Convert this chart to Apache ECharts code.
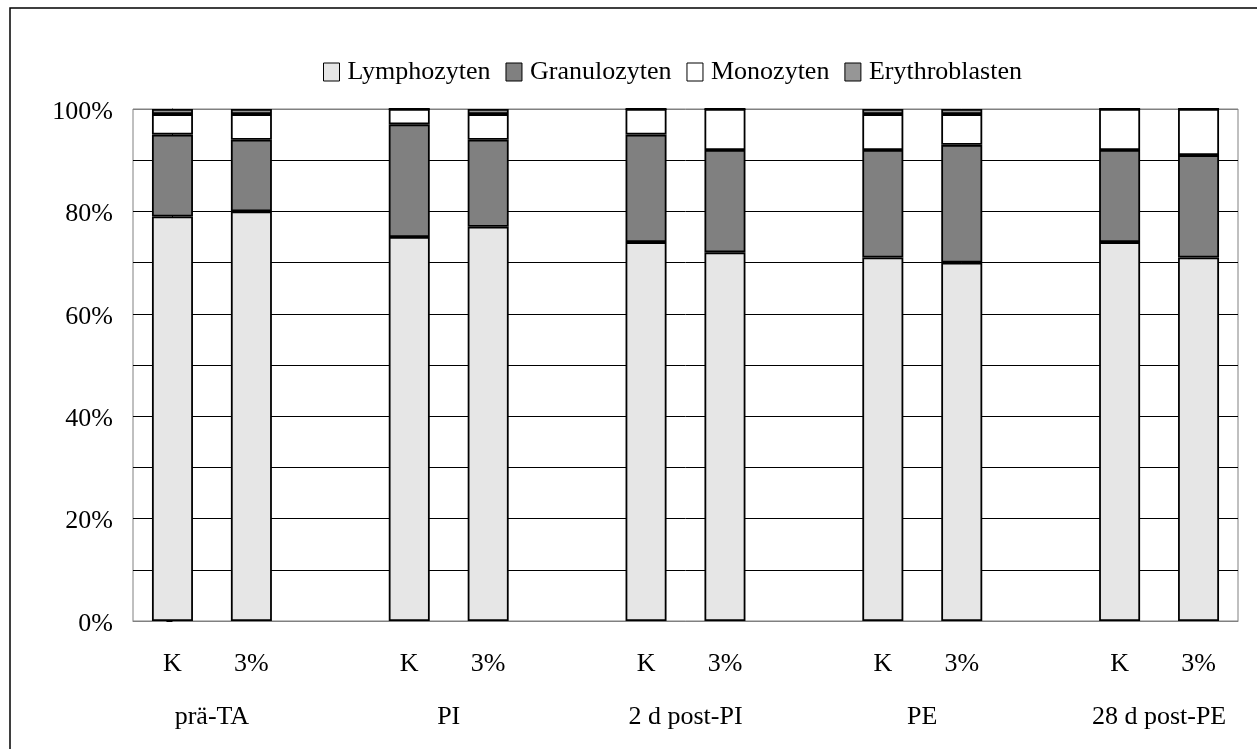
<!DOCTYPE html>
<html>
<head>
<meta charset="utf-8">
<script src="https://cdn.jsdelivr.net/npm/echarts@6/dist/echarts.min.js"></script>
<style>
html,body{margin:0;padding:0;background:#fff;}
#chart{width:1257px;height:749px;}
</style>
</head>
<body>
<div id="chart"></div>
<script>
var categories = ['K','3%','','K','3%','','K','3%','','K','3%','','K','3%'];
var groupLabels = ['prä-TA','PI','2 d post-PI','PE','28 d post-PE'];
var groupPositions = [0.5, 3.5, 6.5, 9.5, 12.5];
var yTicks = [0, 20, 40, 60, 80, 100];
var lymphozyten = [79, 80, null, 75, 77, null, 74, 72, null, 71, 70, null, 74, 71];
var granulozyten = [16, 14, null, 22, 17, null, 21, 20, null, 21, 23, null, 18, 20];
var monozyten = [4, 5, null, 3, 5, null, 5, 8, null, 7, 6, null, 8, 9];
var erythroblasten = [1, 1, null, 0, 1, null, 0, 0, null, 1, 1, null, 0, 0];

var FONT = '"Liberation Serif", "Times New Roman", serif';
var chart = echarts.init(document.getElementById('chart'));

function mk(name, data, color) {
  return {
    name: name, type: 'bar', stack: 'total', data: data,
    xAxisIndex: 0, yAxisIndex: 0, barWidth: 41,
    itemStyle: { color: color, borderColor: '#000', borderWidth: 1.8 },
    emphasis: { disabled: true }
  };
}

chart.setOption({
  animation: false,
  backgroundColor: '#fff',
  textStyle: { fontFamily: FONT },
  graphic: [{
    type: 'rect', shape: { x: 10, y: 8, width: 1270, height: 780 },
    style: { fill: 'none', stroke: '#000', lineWidth: 1.5 }, silent: true, z: -1
  }],
  legend: {
    left: 318, top: 54, itemWidth: 16, itemHeight: 18, itemGap: 15, icon: 'rect',
    textStyle: { fontFamily: FONT, fontSize: 26, color: '#000', padding: [0, 0, 0, 3] },
    itemStyle: { borderColor: '#000', borderWidth: 1 },
    data: ['Lymphozyten', 'Granulozyten', 'Monozyten', 'Erythroblasten']
  },
  grid: {
    left: 133, right: 19, top: 109, bottom: 128, containLabel: false,
    show: true, borderColor: '#808080', borderWidth: 1, backgroundColor: 'transparent'
  },
  xAxis: [{
    type: 'category', data: categories, position: 'bottom',
    axisLine: { show: true, lineStyle: { color: '#808080', width: 1 } },
    axisTick: { show: false },
    axisLabel: { fontFamily: FONT, fontSize: 26, color: '#000', margin: 30, interval: 0 },
    splitLine: { show: false }
  }, {
    type: 'value', min: -0.5, max: 13.5, position: 'bottom',
    axisLine: { show: false }, axisTick: { show: false }, splitLine: { show: false },
    axisLabel: {
      customValues: groupPositions, fontFamily: FONT, fontSize: 26, color: '#000', margin: 83,
      formatter: function (v) {
        for (var i = 0; i < groupPositions.length; i++) if (Math.abs(groupPositions[i] - v) < 1e-6) return groupLabels[i];
        return '';
      }
    }
  }],
  yAxis: {
    type: 'value', min: yTicks[0], max: yTicks[yTicks.length - 1], interval: 20,
    axisLine: { show: true, lineStyle: { color: '#000', width: 1 } },
    axisTick: { show: true, length: 6, lineStyle: { color: '#000' } },
    axisLabel: {
      fontFamily: FONT, fontSize: 26, color: '#000', margin: 20,
      formatter: function (v) { return '{a|' + v + '%}'; },
      rich: { a: { fontFamily: FONT, fontSize: 26, color: '#000', padding: [6, 0, 0, 0] } }
    },
    splitLine: { show: true, lineStyle: { color: ['#808080', '#000', '#000', '#000', '#000', '#808080'], width: 1 } },
    minorTick: { show: false, splitNumber: 2 },
    minorSplitLine: { show: true, lineStyle: { color: '#000', width: 1 } }
  },
  series: [
    mk('Lymphozyten', lymphozyten, '#e6e6e6'),
    mk('Granulozyten', granulozyten, '#808080'),
    mk('Monozyten', monozyten, '#ffffff'),
    mk('Erythroblasten', erythroblasten, '#969696')
  ]
});
</script>
</body>
</html>
